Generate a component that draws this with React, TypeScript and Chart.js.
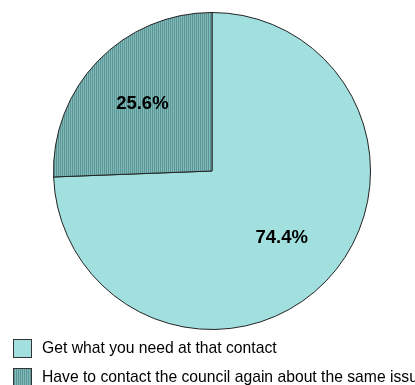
import React, { useEffect, useRef } from "react";
import { Chart, registerables } from "chart.js";

Chart.register(...registerables);

const categories = [
  "Get what you need at that contact",
  "Have to contact the council again about the same issue",
];
const values = [74.4, 25.6];
const valueLabels = ["74.4%", "25.6%"];

function makeStripePattern(): CanvasPattern | string {
  const c = document.createElement("canvas");
  c.width = 2;
  c.height = 1;
  const x = c.getContext("2d");
  if (!x) return "#6aa8a8";
  x.fillStyle = "#5a9696";
  x.fillRect(0, 0, 1, 1);
  x.fillStyle = "#82baba";
  x.fillRect(1, 0, 1, 1);
  const ctx = document.createElement("canvas").getContext("2d");
  return (ctx && ctx.createPattern(c, "repeat")) || "#6aa8a8";
}

export default function App() {
  const ref = useRef<HTMLCanvasElement>(null);

  useEffect(() => {
    if (!ref.current) return;
    const stripe = makeStripePattern();
    const colors = ["#a2e0e0", stripe];

    const labelPlugin = {
      id: "sliceLabels",
      afterDatasetsDraw(chart: any) {
        const ctx = chart.ctx;
        const meta = chart.getDatasetMeta(0);
        ctx.save();
        ctx.font = "bold 18.5px 'Liberation Sans', Arial, sans-serif";
        ctx.fillStyle = "#000";
        ctx.textAlign = "center";
        ctx.textBaseline = "middle";
        meta.data.forEach((arc: any, i: number) => {
          const p = arc.getProps(["x", "y", "startAngle", "endAngle", "outerRadius"], true);
          const mid = (p.startAngle + p.endAngle) / 2;
          const r = p.outerRadius * 0.61;
          ctx.fillText(valueLabels[i], p.x + Math.cos(mid) * r, p.y + Math.sin(mid) * r);
        });
        ctx.restore();
      },
      afterDraw(chart: any) {
        const ctx = chart.ctx;
        ctx.save();
        ctx.font = "15.7px 'Liberation Sans', Arial, sans-serif";
        ctx.textBaseline = "middle";
        ctx.textAlign = "left";
        categories.forEach((label, i) => {
          const top = 339 + i * 29;
          ctx.fillStyle = colors[i];
          ctx.fillRect(13.5, top + 0.5, 18, 18);
          ctx.strokeStyle = "#333";
          ctx.lineWidth = 1;
          ctx.strokeRect(13.5, top + 0.5, 18, 18);
          ctx.fillStyle = "#000";
          ctx.fillText(label, 42, top + 10);
        });
        ctx.restore();
      },
    };

    const chart = new Chart(ref.current, {
      type: "pie",
      data: {
        labels: categories,
        datasets: [
          {
            data: values,
            backgroundColor: colors as any,
            borderColor: "#222",
            borderWidth: 1,
            hoverOffset: 0,
          },
        ],
      },
      options: {
        responsive: false,
        animation: false,
        layout: { padding: { top: 12, bottom: 55, left: 53, right: 44 } },
        plugins: {
          legend: { display: false },
          tooltip: { enabled: false },
        },
      },
      plugins: [labelPlugin],
    });
    return () => chart.destroy();
  }, []);

  return (
    <div style={{ position: "absolute", left: 0, top: 0, width: 415, height: 385, background: "#fff" }}>
      <canvas ref={ref} width={415} height={385} />
    </div>
  );
}
